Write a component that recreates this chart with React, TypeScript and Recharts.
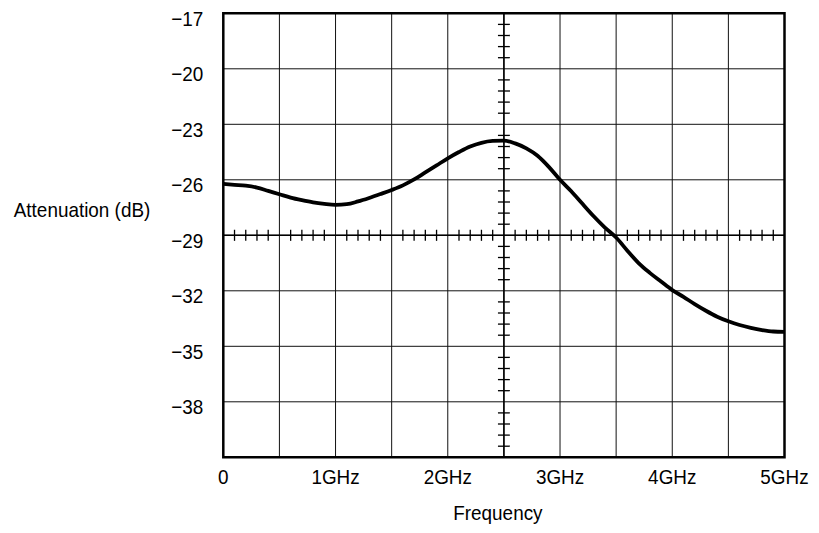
import React from 'react';
import { LineChart, Line, XAxis, YAxis, CartesianGrid, ReferenceLine, ReferenceArea, Label } from 'recharts';

const freqGHz = [0, 0.1, 0.2, 0.3, 0.4, 0.5, 0.6, 0.7, 0.8, 0.9, 1.0, 1.1, 1.2, 1.3, 1.4, 1.5, 1.6, 1.7, 1.8, 1.9, 2.0, 2.1, 2.2, 2.3, 2.4, 2.5, 2.6, 2.7, 2.8, 2.9, 3.0, 3.1, 3.2, 3.3, 3.4, 3.5, 3.6, 3.7, 3.8, 3.9, 4.0, 4.1, 4.2, 4.3, 4.4, 4.5, 4.6, 4.7, 4.8, 4.9, 5.0];
const attenuation = [-26.22, -26.27, -26.32, -26.42, -26.6, -26.78, -26.96, -27.1, -27.22, -27.3, -27.35, -27.32, -27.17, -26.98, -26.77, -26.55, -26.3, -25.98, -25.6, -25.22, -24.84, -24.5, -24.2, -24.0, -23.9, -23.88, -24.03, -24.3, -24.7, -25.3, -26.0, -26.62, -27.3, -27.97, -28.58, -29.12, -29.83, -30.5, -31.03, -31.5, -31.96, -32.33, -32.72, -33.08, -33.4, -33.65, -33.85, -34.0, -34.12, -34.2, -34.22];

const xTicks = [0, 1, 2, 3, 4, 5];
const xTickLabels = ['0', '1GHz', '2GHz', '3GHz', '4GHz', '5GHz'];
const xGrid = [0.5, 1, 1.5, 2, 2.5, 3, 3.5, 4, 4.5];
const yTicks = [-17, -20, -23, -26, -29, -32, -35, -38];
const yTickLabels = ['\u221217', '\u221220', '\u221223', '\u221226', '\u221229', '\u221232', '\u221235', '\u221238'];
const yGrid = [-20, -23, -26, -29, -32, -35, -38];
const minorX = [0.1, 0.2, 0.3, 0.4, 0.6, 0.7, 0.8, 0.9, 1.1, 1.2, 1.3, 1.4, 1.6, 1.7, 1.8, 1.9, 2.1, 2.2, 2.3, 2.4, 2.6, 2.7, 2.8, 2.9, 3.1, 3.2, 3.3, 3.4, 3.6, 3.7, 3.8, 3.9, 4.1, 4.2, 4.3, 4.4, 4.6, 4.7, 4.8, 4.9];
const minorY = [-17.6, -18.2, -18.8, -19.4, -20.6, -21.2, -21.8, -22.4, -23.6, -24.2, -24.8, -25.4, -26.6, -27.2, -27.8, -28.4, -29.6, -30.2, -30.8, -31.4, -32.6, -33.2, -33.8, -34.4, -35.6, -36.2, -36.8, -37.4, -38.6, -39.2, -39.8, -40.4];
const crossX = 2.5;
const crossY = -29;
const xTitle = 'Frequency';
const yTitle = 'Attenuation (dB)';

const data = freqGHz.map((f, i) => ({ f, v: attenuation[i] }));

const FONT = "'Liberation Sans', Arial, sans-serif";
const FS = 21;
const SX = 0.9;

const NarrowText = ({ x, y, anchor, dy, children }: any) => (
  <g transform={`translate(${x},${y}) scale(${SX},1)`}>
    <text x={0} y={0} dy={dy} textAnchor={anchor} fill="#000" fontSize={FS} fontFamily={FONT}>
      {children}
    </text>
  </g>
);

const XTick = (props: any) => {
  const { x, y, payload } = props;
  const label = xTickLabels[xTicks.indexOf(payload.value)] ?? '';
  return <NarrowText x={x} y={y} anchor="middle" dy="0.71em">{label}</NarrowText>;
};

const YTick = (props: any) => {
  const { x, y, payload } = props;
  const label = yTickLabels[yTicks.indexOf(payload.value)] ?? '';
  return <NarrowText x={x} y={y + 5} anchor="end" dy="0.355em">{label}</NarrowText>;
};

const XTitle = (props: any) => {
  const vb = props.viewBox;
  return <NarrowText x={vb.x + vb.width / 2 - 6} y={vb.y + vb.height - 5} anchor="middle" dy={0}>{xTitle}</NarrowText>;
};

const YTitle = (props: any) => {
  const vb = props.viewBox;
  return <NarrowText x={vb.x - 13} y={vb.y + vb.height / 2 - 26} anchor="end" dy="0.355em">{yTitle}</NarrowText>;
};

export default function App() {
  return (
    <div style={{ fontFamily: FONT }}>
      <LineChart width={803} height={517} data={data} style={{ overflow: 'visible' }} margin={{ top: 5.3, right: 26.5, left: 155.3, bottom: 0 }}>
        <CartesianGrid horizontal={true} vertical={true} verticalValues={xGrid} horizontalValues={yGrid} stroke="#111" strokeWidth={1} />
        <XAxis
          dataKey="f"
          type="number"
          domain={[0, 5]}
          ticks={xTicks}
          tickLine={false}
          axisLine={false}
          tickSize={0}
          tickMargin={12}
          height={67.7}
          interval={0}
          tick={<XTick />}
        >
          <Label content={<XTitle />} />
        </XAxis>
        <YAxis
          type="number"
          domain={[-41, -17]}
          ticks={yTicks}
          tickLine={false}
          axisLine={false}
          tickSize={0}
          tickMargin={20}
          width={60}
          interval={0}
          tick={<YTick />}
          allowDataOverflow
        >
          <Label content={<YTitle />} />
        </YAxis>
        <ReferenceLine x={crossX} stroke="#000" strokeWidth={1.5} />
        <ReferenceLine y={crossY} stroke="#000" strokeWidth={1.5} />
        {minorX.map((x) => (
          <ReferenceLine key={'mx' + x} segment={[{ x, y: crossY - 0.3 }, { x, y: crossY + 0.3 }]} stroke="#000" strokeWidth={1.3} />
        ))}
        {minorY.map((y) => (
          <ReferenceLine key={'my' + y} segment={[{ x: crossX - 0.053, y }, { x: crossX + 0.053, y }]} stroke="#000" strokeWidth={1.3} />
        ))}
        <ReferenceArea x1={0} x2={5} y1={-41} y2={-17} fill="none" fillOpacity={0} stroke="#000" strokeWidth={2.5} />
        <Line type="monotone" dataKey="v" stroke="#000" strokeWidth={3.8} dot={false} isAnimationActive={false} />
      </LineChart>
    </div>
  );
}
